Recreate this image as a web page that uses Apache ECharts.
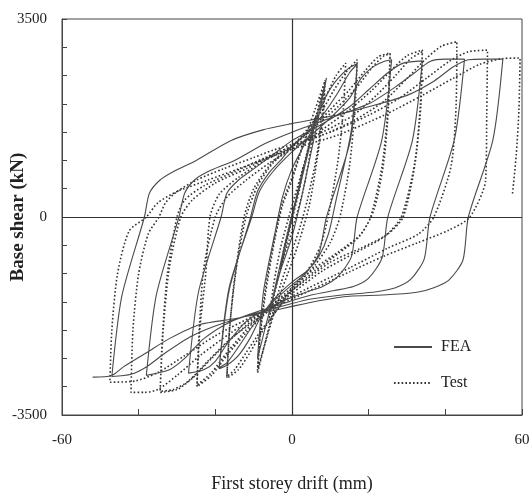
<!DOCTYPE html>
<html>
<head>
<meta charset="utf-8">
<script src="https://cdn.jsdelivr.net/npm/echarts@6/dist/echarts.min.js"></script>
<style>
  html, body { margin: 0; padding: 0; background: #fff; }
  #chart { width: 529px; height: 496px; }
</style>
</head>
<body>
<div id="chart"></div>
<script>
// 轴刻度标签
const xTickLabels = [-60, 0, 60]
const yTickLabels = [-3500, 0, 3500]
const seriesNames = ['FEA', 'Test']

// FEA 滞回曲线 [drift(mm), base shear(kN)]
const feaPoints = [
    [0, 0], [1.5, 430], [3, 860], [1.5, 440], [0, 20], [-1.5, -420], [-3, -870], [-1.5, -450], [0, -30],
    [3, 820], [6, 1700], [4.5, 1250], [3, 800], [0, 40], [-3, -820], [-6, -1720], [-4.5, -1270], [-3, -830], [0, -20],
    [3, 800], [6, 1640], [9, 2460], [7.5, 1950], [5, 1150], [2.5, 350], [0, -350], [-3, -950], [-6, -1700], [-9, -2500],
    [-7.4, -1300], [-4.5, -300], [-2.5, 350], [0, 850], [3, 1250], [6, 1650], [9, 2150], [12, 2450], [15, 2640], [17, 2710],
    [15.4, 1500], [11.5, 300], [9.5, -300], [7, -700], [4, -950], [0, -1150], [-4, -1400], [-8, -1750], [-11, -2150], [-14, -2450], [-17, -2620], [-19, -2680],
    [-16.4, -1300], [-11, -50], [-9, 450], [-6, 780], [-3, 1000], [0, 1250], [4, 1500], [8, 1800], [12, 2200], [15, 2550], [17, 2700],
    [15.2, 1350], [9, 0], [7, -650], [3.5, -1000], [0, -1200], [-5, -1500], [-10, -1900], [-14, -2300], [-17, -2580], [-19, -2660],
    [-16.4, -1250], [-10.5, 0], [-8.5, 450], [-5, 800], [0, 1150], [5, 1450], [10, 1750], [15, 2100], [18, 2450], [21, 2650], [24, 2750], [26, 2780],
    [23.4, 1350], [17, 0], [15.5, -700], [12, -1050], [8, -1230], [4, -1320], [0, -1420], [-6, -1600], [-12, -1850], [-17, -2250], [-20, -2550], [-23, -2700], [-27, -2760],
    [-24.4, -1330], [-18.5, 0], [-17, 420], [-14, 650], [-10, 850], [-5, 1100], [0, 1350], [8, 1650], [15, 1950], [20, 2250], [25, 2550], [29, 2720], [34, 2760],
    [31.4, 1350], [25, 0], [23.5, -720], [20, -1080], [16, -1230], [11, -1300], [5, -1380], [0, -1480], [-8, -1650], [-16, -1850], [-23, -2150], [-28, -2500], [-32, -2700], [-38, -2800],
    [-35.4, -1380], [-29.5, 0], [-28, 420], [-25.5, 650], [-22, 800], [-15, 1000], [-7, 1300], [0, 1500], [10, 1750], [20, 2000], [27, 2300], [32, 2550], [36, 2750], [40, 2790], [45, 2790],
    [42.4, 1380], [36, 0], [34.5, -740], [31, -1100], [27, -1250], [22, -1320], [13, -1380], [5, -1450], [0, -1530], [-8, -1680], [-18, -1880], [-26, -2100], [-33, -2400], [-38, -2650], [-42, -2780], [-47, -2820],
    [-44.4, -1400], [-38.5, 0], [-37.2, 420], [-34.5, 650], [-31, 800], [-25, 1000], [-16, 1350], [-7.6, 1540], [0, 1650], [10, 1780], [20, 1950], [30, 2150], [37, 2400], [42, 2650], [46, 2780], [50, 2790], [55, 2790],
    [52.4, 1360], [46, 0], [44.6, -760], [41, -1110], [37, -1250], [32.6, -1330], [23.7, -1380], [15, -1400], [7, -1480], [0, -1580], [-6.5, -1680], [-15, -1800], [-24, -1900], [-32, -2150], [-38, -2400], [-44, -2650], [-47, -2800], [-52, -2830]
]

// 试验滞回曲线 [drift(mm), base shear(kN)]
const testPoints = [
    [0, 0], [1.5, 450], [3, 900], [2, 500], [0, -50], [-1.5, -480], [-3, -920], [-2, -520], [0, 30],
    [3, 850], [6, 1750], [4.8, 1150], [3, 500], [0, -250], [-3, -900], [-6, -1800], [-4.8, -1200], [-3, -550], [0, 200],
    [3, 900], [6, 1700], [8.6, 2420], [8, 1900], [6.5, 1100], [4, 300], [2, -200], [0, -600], [-3, -1200], [-6, -1950], [-9, -2760],
    [-8.3, -2100], [-6.8, -1300], [-4.5, -400], [-2.5, 200], [0, 650], [3, 1300], [6, 1900], [8.6, 2400],
    [8.2, 1850], [6.5, 1000], [4.5, 200], [2, -400], [0, -800], [-3, -1350], [-6, -2000], [-9, -2700],
    [-8.3, -2050], [-6.8, -1200], [-4.5, -350], [-2.5, 250], [0, 700], [3, 1300], [6, 1750], [9, 2150], [11.5, 2500], [14, 2720],
    [13.4, 1900], [12, 1000], [9.4, 0], [7.5, -500], [4, -950], [0, -1250], [-4, -1650], [-8, -2050], [-11, -2400], [-14, -2700], [-17, -2850],
    [-16.3, -2000], [-15, -1100], [-12.5, 0], [-10, 500], [-6, 900], [-3, 1100], [0, 1250], [4, 1550], [8, 1900], [11, 2250], [14, 2550], [17, 2780],
    [16.4, 1900], [15, 900], [12.5, 0], [10, -450], [6, -850], [2, -1150], [0, -1300], [-4, -1650], [-8, -2000], [-12, -2400], [-15, -2700], [-17, -2820],
    [-16.2, -1900], [-14.5, -900], [-12, 0], [-9, 550], [-5, 950], [0, 1250], [5, 1550], [10, 1900], [15, 2250], [19, 2580], [22.5, 2830], [25.6, 2900],
    [25, 1900], [23.5, 900], [20.5, 0], [17.5, -350], [12, -650], [6, -950], [0, -1300], [-6, -1650], [-12, -2050], [-17, -2450], [-21, -2800], [-24.8, -3000],
    [-24, -1950], [-22.5, -1000], [-21.4, 0], [-19, 400], [-14, 700], [-7, 1000], [0, 1250], [6, 1600], [12, 1950], [17, 2300], [21, 2650], [24, 2850], [25.6, 2880],
    [25.2, 2000], [24, 1000], [21.5, 150], [18, -300], [12, -620], [6, -900], [0, -1250], [-6, -1600], [-12, -2000], [-17, -2400], [-21, -2750], [-24.8, -2970],
    [-24.2, -2000], [-23, -900], [-20, 0], [-17, 350], [-12, 650], [-6, 950], [0, 1200], [8, 1550], [15, 1900], [21, 2250], [26, 2600], [30, 2850], [34, 2950],
    [33.6, 1950], [32, 900], [29, 0], [25, -300], [18, -550], [10, -800], [0, -1300], [-8, -1700], [-15, -2100], [-21, -2500], [-26, -2850], [-30, -3050], [-34.4, -3100],
    [-33.8, -2100], [-32.5, -1000], [-30, 0], [-28, 300], [-23, 550], [-15, 800], [-7, 1050], [0, 1250], [8, 1500], [16, 1800], [22, 2150], [27, 2500], [31, 2800], [34, 2920],
    [33.5, 2000], [32, 950], [28.5, 0], [24, -350], [16, -650], [8, -950], [0, -1350], [-8, -1750], [-16, -2150], [-22, -2550], [-27, -2900], [-31, -3050], [-34.4, -3080],
    [-33.6, -2000], [-32, -900], [-29, 0], [-26, 300], [-20, 600], [-12, 850], [-5, 1100], [0, 1250], [8, 1450], [16, 1700], [24, 2050], [30, 2450], [35, 2800], [39, 3020], [43, 3100],
    [42.8, 1950], [41.5, 900], [37, 0], [33, -300], [25, -550], [15, -900], [0, -1400], [-8, -1700], [-16, -2050], [-24, -2450], [-30, -2800], [-35, -3050], [-38.5, -3100], [-42, -3100],
    [-41.5, -2000], [-40, -1000], [-37.5, -300], [-34.7, 0], [-33, 250], [-30, 450], [-25, 650], [-18, 850], [-10, 1050], [-5, 1180], [0, 1280], [10, 1500], [20, 1800], [28, 2100], [35, 2450], [41, 2750], [46, 2920], [51, 2950],
    [50.8, 1800], [50.5, 650], [46.4, 0], [41, -230], [32.6, -460], [23.7, -700], [15, -970], [0, -1450], [-10, -1750], [-20, -2100], [-28, -2450], [-35, -2750], [-41, -2900], [-47.5, -2920],
    [-47, -2000], [-45.5, -1000], [-42.5, -250], [-38, 0], [-35, 250], [-30, 450], [-22, 650], [-14, 850], [-6, 1050], [0, 1200], [12, 1450], [24, 1800], [34, 2150], [42, 2450], [49, 2700], [55, 2800], [59.5, 2810],
    [59.2, 1900], [58.5, 1100], [57.5, 400]
]

const serif = '"Liberation Serif", "Times New Roman", serif'

const cs = echarts.init(document.getElementById('chart'))
const option = {
    animation: false,
    backgroundColor: '#fff',
    grid: {
        left: 62, right: 7, top: 19, bottom: 81,
        outerBoundsMode: 'none',
        containLabel: false,
        show: true,
        borderColor: '#444',
        borderWidth: 1
    },
    legend: {
        data: seriesNames,
        orient: 'vertical',
        left: 388,
        top: 334,
        itemWidth: 38,
        itemHeight: 12,
        itemGap: 20,
        itemStyle: { opacity: 0 },
        textStyle: {
            fontFamily: serif,
            fontSize: 16,
            color: '#222',
            padding: [0, 0, 0, 4]
        }
    },
    xAxis: {
        type: 'value',
        min: -60,
        max: 60,
        interval: 20,
        name: 'First storey drift (mm)',
        nameLocation: 'middle',
        nameGap: 60,
        nameMoveOverlap: false,
        nameTextStyle: { fontFamily: serif, fontSize: 18, color: '#222' },
        axisLine: { show: true, onZero: false, lineStyle: { color: '#444', width: 1 } },
        axisTick: { show: true, inside: true, length: 6, lineStyle: { color: '#444' } },
        axisLabel: {
            margin: 18,
            fontFamily: serif,
            fontSize: 15,
            color: '#222',
            showMinLabel: true,
            showMaxLabel: true,
            formatter: (v) => xTickLabels.includes(v) ? String(v) : ''
        },
        splitLine: { show: false }
    },
    yAxis: {
        type: 'value',
        min: -3500,
        max: 3500,
        interval: 500,
        name: 'Base shear (kN)',
        nameLocation: 'middle',
        nameGap: 34,
        nameMoveOverlap: false,
        nameTextStyle: { fontFamily: serif, fontSize: 19, fontWeight: 'bold', color: '#222' },
        axisLine: { show: true, onZero: false, lineStyle: { color: '#444', width: 1 } },
        axisTick: { show: true, inside: true, length: 5, lineStyle: { color: '#444' } },
        axisLabel: {
            margin: 15,
            fontFamily: serif,
            fontSize: 15,
            color: '#222',
            showMinLabel: true,
            showMaxLabel: true,
            formatter: (v) => yTickLabels.includes(v) ? String(v) : ''
        },
        splitLine: { show: false }
    },
    series: [
        {
            name: seriesNames[0],
            type: 'line',
            data: feaPoints,
            symbol: 'none',
            smooth: 0.25,
            z: 3,
            lineStyle: { color: '#4a4a4a', width: 1.1, type: 'solid' },
            itemStyle: { color: '#4a4a4a' },
            markLine: {
                silent: true,
                symbol: 'none',
                label: { show: false },
                lineStyle: { color: '#333', width: 1.2, type: 'solid' },
                data: [{ xAxis: 0 }, { yAxis: 0 }]
            }
        },
        {
            name: seriesNames[1],
            type: 'line',
            data: testPoints,
            symbol: 'none',
            smooth: 0.25,
            z: 2,
            lineStyle: { color: '#333', width: 1.6, type: [1.6, 2.2] },
            itemStyle: { color: '#333' }
        }
    ]
}
cs.setOption(option)
</script>
</body>
</html>
